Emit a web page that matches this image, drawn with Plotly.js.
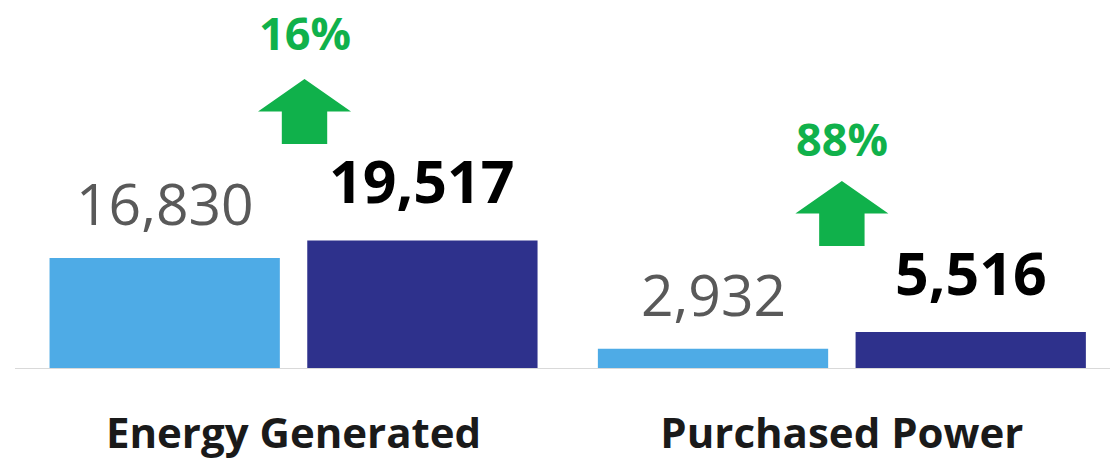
<!DOCTYPE html>
<html>
<head>
<meta charset="utf-8">
<script src="https://cdn.plot.ly/plotly-3.0.1.min.js"></script>
<style>html,body{margin:0;padding:0;background:#fff;}#chart{width:1110px;height:463px;}</style>
</head>
<body>
<div id="chart"></div>
<script>
const categories = ["Energy Generated", "Purchased Power"];
const priorValues = [16830, 2932];
const currentValues = [19517, 5516];
const changeLabels = ["16%", "88%"];

const fmt = v => v.toLocaleString("en-US");
const FONT = "Open Sans, sans-serif";
const BAR_W = 0.42, GAP = 0.05;

const traces = [
  {
    type: "bar", x: categories, y: priorValues, name: "Prior",
    width: BAR_W, offset: -(BAR_W + GAP / 2),
    marker: { color: "#4eabe6" }, hoverinfo: "skip"
  },
  {
    type: "bar", x: categories, y: currentValues, name: "Current",
    width: BAR_W, offset: GAP / 2,
    marker: { color: "#2e318c" }, hoverinfo: "skip"
  }
];

const annotations = [];
const shapes = [];
const arrowShift = [0.02, 0];
const arrowBase = [224, 122];   // pixel height above baseline of stem bottom
const pctShift = [303, 197];     // pixel height above baseline of percent label box bottom
categories.forEach((c, i) => {
  const xl = i - (BAR_W + GAP) / 2;
  const xr = i + (BAR_W + GAP) / 2;
  annotations.push({
    x: xl, y: priorValues[i], xref: "x", yref: "y", text: fmt(priorValues[i]),
    showarrow: false, yanchor: "bottom", yshift: 14,
    font: { family: FONT, size: 57, color: "#595959" }
  });
  annotations.push({
    x: xr, y: currentValues[i], xref: "x", yref: "y", text: "<b>" + fmt(currentValues[i]) + "</b>",
    showarrow: false, yanchor: "bottom", yshift: 18,
    font: { family: FONT, size: 59, color: "#000000" }
  });
  const ax = i + arrowShift[i];
  const b = arrowBase[i];
  shapes.push({
    type: "path", xref: "x", yref: "y", xsizemode: "pixel", ysizemode: "pixel",
    xanchor: ax, yanchor: 0,
    path: `M -22.7 ${b} L 22.7 ${b} L 22.7 ${b + 32.5} L 46.5 ${b + 32.5} L 0 ${b + 65} L -46.5 ${b + 32.5} L -22.7 ${b + 32.5} Z`,
    fillcolor: "#10b14b", line: { width: 0 }
  });
  annotations.push({
    x: ax, y: 0, xref: "x", yref: "y", text: "<b>" + changeLabels[i] + "</b>",
    showarrow: false, yanchor: "bottom", yshift: pctShift[i],
    font: { family: FONT, size: 45, color: "#10b14b" }
  });
});

const layout = {
  width: 1110, height: 463,
  margin: { l: 15, r: 0, t: 0, b: 95 },
  paper_bgcolor: "#ffffff", plot_bgcolor: "#ffffff",
  showlegend: false,
  barmode: "group",
  xaxis: {
    type: "category", range: [-0.508, 1.489],
    showline: true, linecolor: "#d9d9d9", linewidth: 1,
    showgrid: false, zeroline: false, ticks: "",
    ticklabelstandoff: 29,
    tickfont: { family: FONT, size: 42, color: "#1a1a1a", weight: "bold" }
  },
  yaxis: {
    range: [0, 56300], visible: false, showgrid: false, zeroline: false, fixedrange: true
  },
  annotations: annotations,
  shapes: shapes
};

Plotly.newPlot("chart", traces, layout, { displayModeBar: false, staticPlot: true });
</script>
</body>
</html>
